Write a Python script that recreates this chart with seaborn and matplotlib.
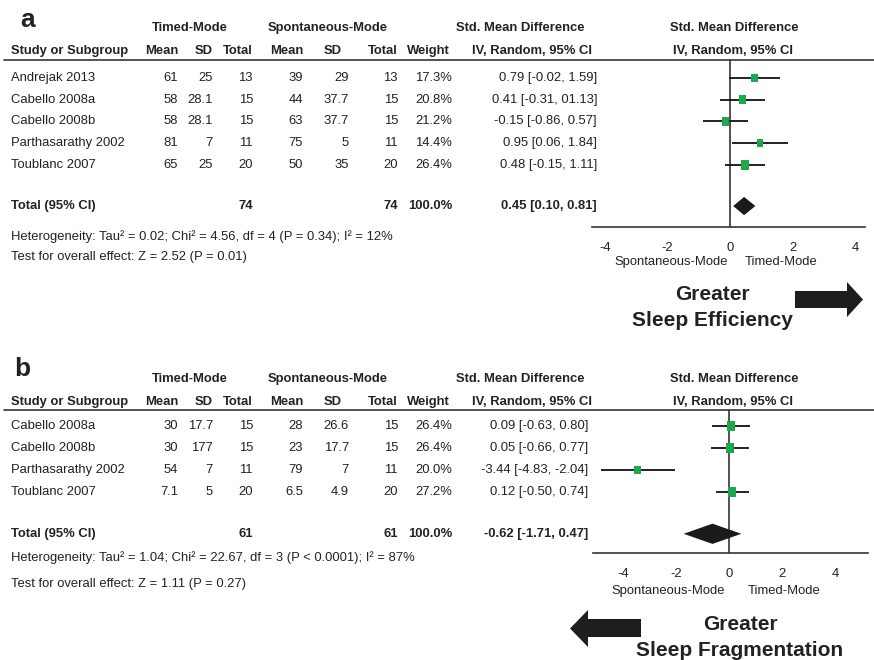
import matplotlib
matplotlib.use("Agg")
import matplotlib.pyplot as plt
import matplotlib.transforms as mtransforms
from matplotlib.patches import Polygon
import seaborn as sns

# ──────────────────────────────────────────────────────────────
# Data: (a) sleep efficiency, (b) sleep fragmentation
# ──────────────────────────────────────────────────────────────
studies_a = ["Andrejak 2013", "Cabello 2008a", "Cabello 2008b",
             "Parthasarathy 2002", "Toublanc 2007"]
tm_mean_a = ["61", "58", "58", "81", "65"]
tm_sd_a = ["25", "28.1", "28.1", "7", "25"]
tm_n_a = [13, 15, 15, 11, 20]
sp_mean_a = ["39", "44", "63", "75", "50"]
sp_sd_a = ["29", "37.7", "37.7", "5", "35"]
sp_n_a = [13, 15, 15, 11, 20]
weight_a = [17.3, 20.8, 21.2, 14.4, 26.4]
smd_a = [0.79, 0.41, -0.15, 0.95, 0.48]
lo_a = [-0.02, -0.31, -0.86, 0.06, -0.15]
hi_a = [1.59, 1.13, 0.57, 1.84, 1.11]
ci_text_a = ["0.79 [-0.02, 1.59]", "0.41 [-0.31, 01.13]", "-0.15 [-0.86, 0.57]",
             "0.95 [0.06, 1.84]", "0.48 [-0.15, 1.11]"]
total_a = [0.45, 0.10, 0.81]
total_text_a = "0.45 [0.10, 0.81]"
total_weight_a = 100.0
het_a = "Heterogeneity: Tau² = 0.02; Chi² = 4.56, df = 4 (P = 0.34); I² = 12%"
z_a = "Test for overall effect: Z = 2.52 (P = 0.01)"

studies_b = ["Cabello 2008a", "Cabello 2008b", "Parthasarathy 2002", "Toublanc 2007"]
tm_mean_b = ["30", "30", "54", "7.1"]
tm_sd_b = ["17.7", "177", "7", "5"]
tm_n_b = [15, 15, 11, 20]
sp_mean_b = ["28", "23", "79", "6.5"]
sp_sd_b = ["26.6", "17.7", "7", "4.9"]
sp_n_b = [15, 15, 11, 20]
weight_b = [26.4, 26.4, 20.0, 27.2]
smd_b = [0.09, 0.05, -3.44, 0.12]
lo_b = [-0.63, -0.66, -4.83, -0.50]
hi_b = [0.80, 0.77, -2.04, 0.74]
ci_text_b = ["0.09 [-0.63, 0.80]", "0.05 [-0.66, 0.77]",
             "-3.44 [-4.83, -2.04]", "0.12 [-0.50, 0.74]"]
total_b = [-0.62, -1.71, 0.47]
total_text_b = "-0.62 [-1.71, 0.47]"
total_weight_b = 100.0
het_b = "Heterogeneity: Tau² = 1.04; Chi² = 22.67, df = 3 (P < 0.0001); I² = 87%"
z_b = "Test for overall effect: Z = 1.11 (P = 0.27)"

xticks = [-4, -2, 0, 2, 4]

TXT = "#222222"
LINE = "#333333"
GREEN = "#21a650"
FS = 9.4
W, H = 874, 660

sns.set_style("white")
plt.rcParams["font.family"] = ["Liberation Sans", "DejaVu Sans"]
plt.rcParams["axes.unicode_minus"] = False

fig = plt.figure(figsize=(W / 100, H / 100), dpi=100)
bg = fig.add_axes([0, 0, 1, 1])
bg.set_xlim(0, W)
bg.set_ylim(H, 0)
bg.axis("off")


def txt(x, y, s, ha="left", bold=False, trans=None, **kw):
    bg.text(x, y, s, ha=ha, va="center", fontsize=kw.pop("fontsize", FS),
            fontweight="bold" if bold else "normal", color=TXT,
            transform=trans if trans is not None else bg.transData, **kw)


def panel(letter, g, studies, tm_mean, tm_sd, tm_n, sp_mean, sp_sd, sp_n,
          weight, smd, lo, hi, ci_text, total, total_text, total_weight, het, zline):
    n = len(studies)
    rows = list(range(n))
    total_row = n + 0.9
    # forest axes, rows in data units aligned to the table
    x0, x1 = g["ax_x"]
    ax = fig.add_axes([x0 / W, 1 - g["axis_y"] / H,
                       (x1 - x0) / W, (g["axis_y"] - g["line_y"]) / H])
    ax.patch.set_alpha(0)
    ymin = (g["line_y"] - g["row0"]) / g["dy"]
    ymax = (g["axis_y"] - g["row0"]) / g["dy"]
    ax.set_ylim(ymax, ymin)
    ax.set_xlim(*g["xlim"])
    ax.axvline(0, color=LINE, lw=1.2, zorder=1)
    ax.hlines(rows, lo, hi, color="#111111", lw=1.3, zorder=2)
    sns.scatterplot(x=smd, y=rows, size=weight, sizes=(30, 50),
                    size_norm=(14.4, 27.2),
                    marker=[(-0.8, -1), (0.8, -1), (0.8, 1), (-0.8, 1)],
                    color=GREEN, edgecolor="none", linewidth=0,
                    legend=False, ax=ax, zorder=3)
    est, tlo, thi = total
    hh = g["dh"]
    ax.fill([tlo, est, thi, est], [total_row, total_row - hh, total_row, total_row + hh],
            color="#1a1a1a", zorder=3, lw=0)
    for side in ["left", "right", "top"]:
        ax.spines[side].set_visible(False)
    ax.spines["bottom"].set_color(LINE)
    ax.spines["bottom"].set_linewidth(1.2)
    ax.set_yticks([])
    ax.set_xticks(xticks)
    ax.set_xticklabels([str(t) for t in xticks])
    ax.tick_params(axis="x", direction="inout", length=12, width=1.2,
                   color=LINE, labelcolor=TXT, labelsize=FS, pad=4.5)
    ax.set_xlabel("")
    ax.set_ylabel("")

    rt = mtransforms.blended_transform_factory(bg.transData, ax.transData)

    # headers
    bg.text(g["lab_x"], g["lab_y"], letter, fontsize=19, fontweight="bold",
            color=TXT, ha="left", va="baseline")
    gy, hy = g["group_y"], g["head_y"]
    txt(190, gy, "Timed-Mode", ha="center", bold=True)
    txt(328, gy, "Spontaneous-Mode", ha="center", bold=True)
    txt(520, gy, "Std. Mean Difference", ha="center", bold=True)
    txt(734, gy, "Std. Mean Difference", ha="center", bold=True)
    txt(11, hy, "Study or Subgroup", bold=True)
    for x, s in [(178, "Mean"), (213, "SD"), (253, "Total"), (303, "Mean"),
                 (342, "SD"), (398, "Total"), (450, "Weight")]:
        txt(x, hy, s, ha="right", bold=True)
    txt(532, hy, "IV, Random, 95% CI", ha="center", bold=True)
    txt(733, hy, "IV, Random, 95% CI", ha="center", bold=True)
    bg.plot([4, W], [g["line_y"], g["line_y"]], color="#444444", lw=1.3)

    # study rows
    for i in rows:
        txt(11, i, studies[i], trans=rt)
        txt(178, i, tm_mean[i], ha="right", trans=rt)
        txt(213, i, tm_sd[i], ha="right", trans=rt)
        txt(253, i, str(tm_n[i]), ha="right", trans=rt)
        txt(303, i, sp_mean[i], ha="right", trans=rt)
        txt(349, i, sp_sd[i], ha="right", trans=rt)
        txt(398, i, str(sp_n[i]), ha="right", trans=rt)
        txt(452, i, f"{weight[i]:.1f}%", ha="right", trans=rt)
        txt(g["ci_r"], i, ci_text[i], ha="right", trans=rt)

    txt(11, total_row, "Total (95% CI)", bold=True, trans=rt)
    txt(253, total_row, str(sum(tm_n)), ha="right", bold=True, trans=rt)
    txt(398, total_row, str(sum(sp_n)), ha="right", bold=True, trans=rt)
    txt(452, total_row, f"{total_weight:.1f}%", ha="right", bold=True, trans=rt)
    txt(g["ci_r"], total_row, total_text, ha="right", bold=True, trans=rt)

    txt(11, g["het_y"], het)
    txt(11, g["z_y"], zline)
    sx, tx = g["dir_x"]
    txt(sx, g["dir_y"], "Spontaneous-Mode", ha="right")
    txt(tx, g["dir_y"], "Timed-Mode", ha="left")
    return ax


ga = dict(lab_x=20, lab_y=27, group_y=28, head_y=51, line_y=60, row0=78, dy=21.7,
          axis_y=227, ax_x=(592, 865), xlim=(-4.42, 4.32), dh=0.42, ci_r=597,
          het_y=237, z_y=257, dir_y=262, dir_x=(728, 745))
gb = dict(lab_x=14, lab_y=376, group_y=379, head_y=402, line_y=410, row0=426, dy=22,
          axis_y=553, ax_x=(593, 868), xlim=(-5.13, 5.25), dh=0.46, ci_r=588,
          het_y=558, z_y=584, dir_y=591, dir_x=(725, 748))

panel("a", ga, studies_a, tm_mean_a, tm_sd_a, tm_n_a, sp_mean_a, sp_sd_a, sp_n_a,
      weight_a, smd_a, lo_a, hi_a, ci_text_a, total_a, total_text_a, total_weight_a,
      het_a, z_a)
panel("b", gb, studies_b, tm_mean_b, tm_sd_b, tm_n_b, sp_mean_b, sp_sd_b, sp_n_b,
      weight_b, smd_b, lo_b, hi_b, ci_text_b, total_b, total_text_b, total_weight_b,
      het_b, z_b)

# direction arrows and captions
bg.add_patch(Polygon([(795, 291), (847, 291), (847, 282), (863, 299.5),
                      (847, 317), (847, 308), (795, 308)],
                     closed=True, color="#1e1e1e", lw=0))
txt(712, 295, "Greater", ha="center", bold=True, fontsize=15)
txt(712, 321, "Sleep Efficiency", ha="center", bold=True, fontsize=15)

bg.add_patch(Polygon([(641, 619), (588, 619), (588, 610), (570, 628.5),
                      (588, 647), (588, 637), (641, 637)],
                     closed=True, color="#1e1e1e", lw=0))
txt(740, 625, "Greater", ha="center", bold=True, fontsize=15)
txt(740, 651, "Sleep Fragmentation", ha="center", bold=True, fontsize=15)

fig.savefig("out.png", dpi=100, facecolor="white")
